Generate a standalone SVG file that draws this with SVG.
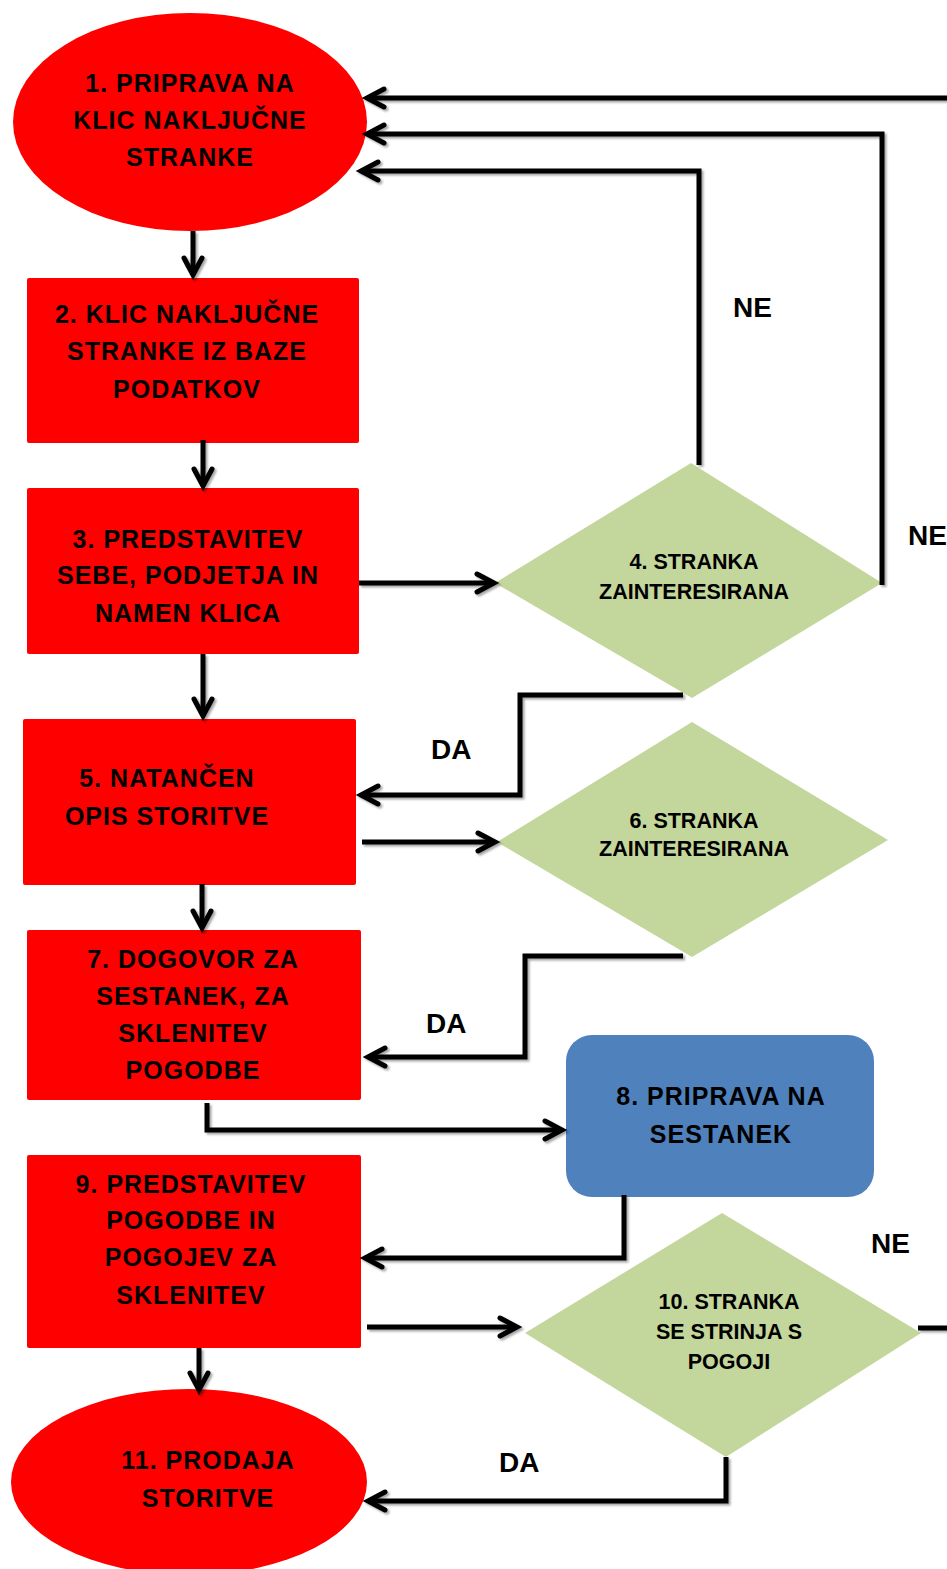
<svg xmlns="http://www.w3.org/2000/svg" width="947" height="1569" viewBox="0 0 947 1569">
<defs>
<style>
.red{fill:#FF0000;}
.grn{fill:#C3D69B;}
.blu{fill:#4F81BD;}
.t{font-family:"Liberation Sans",Arial,sans-serif;font-weight:bold;fill:#000;text-anchor:middle;}
.big{font-size:25px;letter-spacing:1px;}
.dia{font-size:21.5px;}
.lbl{font-family:"Liberation Sans",Arial,sans-serif;font-weight:bold;font-size:28px;fill:#000;}
.c{fill:none;stroke:#000;stroke-width:5;stroke-linejoin:miter;marker-end:url(#ah);filter:url(#sh);}
.cn{fill:none;stroke:#000;stroke-width:5;filter:url(#sh);}
</style>
<filter id="sh" filterUnits="userSpaceOnUse" x="0" y="0" width="947" height="1569">
<feDropShadow dx="2" dy="2" stdDeviation="1.2" flood-color="#000" flood-opacity="0.35"/>
</filter>
<marker id="ah" markerUnits="userSpaceOnUse" markerWidth="30" markerHeight="30" refX="0" refY="0" viewBox="-22 -15 30 30" orient="auto" overflow="visible">
<path d="M-17,-9 L0,0 L-17,9" fill="none" stroke="#000" stroke-width="5" stroke-linecap="round" stroke-linejoin="miter"/>
</marker>
</defs>

<g id="n1">
<ellipse class="red" cx="190" cy="122" rx="177" ry="109"/>
<text class="t big" x="190" y="92">1. PRIPRAVA NA</text>
<text class="t big" x="190" y="129">KLIC NAKLJUČNE</text>
<text class="t big" x="190" y="166">STRANKE</text>
</g>
<g id="n2">
<rect class="red" x="27" y="278" width="332" height="165" rx="2"/>
<text class="t big" x="187" y="323">2. KLIC NAKLJUČNE</text>
<text class="t big" x="187" y="360">STRANKE IZ BAZE</text>
<text class="t big" x="187" y="398">PODATKOV</text>
</g>
<g id="n3">
<rect class="red" x="27" y="488" width="332" height="166" rx="2"/>
<text class="t big" x="188" y="548">3. PREDSTAVITEV</text>
<text class="t big" x="188" y="584">SEBE, PODJETJA IN</text>
<text class="t big" x="188" y="622">NAMEN KLICA</text>
</g>
<g id="n4">
<polygon class="grn" points="495,583 691,463 882,583 692,698"/>
<text class="t dia" x="694" y="569">4. STRANKA</text>
<text class="t dia" x="694" y="599">ZAINTERESIRANA</text>
</g>
<g id="n5">
<rect class="red" x="23" y="719" width="333" height="166" rx="2"/>
<text class="t big" x="167" y="787">5. NATANČEN</text>
<text class="t big" x="167" y="825">OPIS STORITVE</text>
</g>
<g id="n6">
<polygon class="grn" points="497,842 692,722 888,840 692,957"/>
<text class="t dia" x="694" y="828">6. STRANKA</text>
<text class="t dia" x="694" y="856">ZAINTERESIRANA</text>
</g>
<g id="n7">
<rect class="red" x="27" y="930" width="334" height="170" rx="2"/>
<text class="t big" x="193" y="968">7. DOGOVOR ZA</text>
<text class="t big" x="193" y="1005">SESTANEK, ZA</text>
<text class="t big" x="193" y="1042">SKLENITEV</text>
<text class="t big" x="193" y="1079">POGODBE</text>
</g>
<g id="n8">
<rect class="blu" x="566" y="1035" width="308" height="162" rx="26"/>
<text class="t big" x="721" y="1105">8. PRIPRAVA NA</text>
<text class="t big" x="721" y="1143">SESTANEK</text>
</g>
<g id="n9">
<rect class="red" x="27" y="1155" width="334" height="193" rx="2"/>
<text class="t big" x="191" y="1193">9. PREDSTAVITEV</text>
<text class="t big" x="191" y="1229">POGODBE IN</text>
<text class="t big" x="191" y="1266">POGOJEV ZA</text>
<text class="t big" x="191" y="1304">SKLENITEV</text>
</g>
<g id="n10">
<polygon class="grn" points="525,1333 722,1213 921,1333 726,1457"/>
<text class="t dia" x="729" y="1309">10. STRANKA</text>
<text class="t dia" x="729" y="1339">SE STRINJA S</text>
<text class="t dia" x="729" y="1369">POGOJI</text>
</g>
<g id="n11">
<ellipse class="red" cx="189" cy="1482" rx="178" ry="93"/>
<text class="t big" x="208" y="1469">11. PRODAJA</text>
<text class="t big" x="208" y="1507">STORITVE</text>
</g>

<g id="connectors">
<path class="c" d="M193,231 V275"/>
<path class="c" d="M203,440 V486"/>
<path class="c" d="M359,583 H494"/>
<path class="c" d="M203,654 V716"/>
<path class="c" d="M202,884 V928"/>
<path class="c" d="M199,1348 V1390"/>
<path class="c" d="M947,98 H367"/>
<path class="c" d="M882,585 V134 H367"/>
<path class="c" d="M699,465 V171 H361"/>
<path class="c" d="M683,695 H520 V795 H361"/>
<path class="c" d="M362,842 H495"/>
<path class="c" d="M683,956 H525 V1057 H368"/>
<path class="c" d="M207,1103 V1130 H562"/>
<path class="c" d="M624,1195 V1258 H365"/>
<path class="c" d="M367,1327 H517"/>
<path class="cn" d="M918,1328 H947"/>
<path class="c" d="M726,1457 V1501 H368"/>
<text class="lbl" x="733" y="317">NE</text>
<text class="lbl" x="908" y="545">NE</text>
<text class="lbl" x="431" y="759">DA</text>
<text class="lbl" x="426" y="1033">DA</text>
<text class="lbl" x="871" y="1253">NE</text>
<text class="lbl" x="499" y="1472">DA</text>
</g>
</svg>
